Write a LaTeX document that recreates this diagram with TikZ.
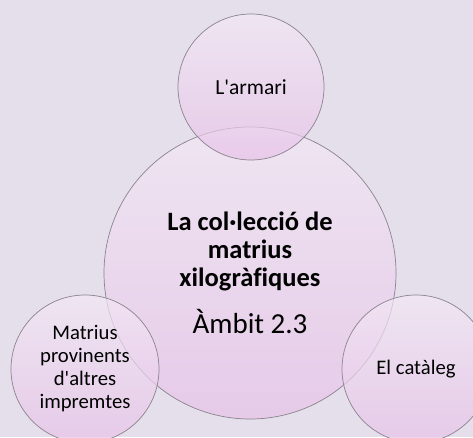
\documentclass[tikz,border=0pt]{standalone}
\usepackage{fontspec}
\setmainfont{Carlito}[Ligatures=NoCommon]
\usepackage{tikz}

\definecolor{backlila}{HTML}{E5DFEB}
\definecolor{ringtop}{HTML}{F3E8F5}
\definecolor{ringbottom}{HTML}{E7C2E8}
\definecolor{ringline}{HTML}{8A848E}

\begin{document}
\begin{tikzpicture}
[x=1pt, y=1pt,
 ring/.style={circle, draw=ringline, line width=.7pt, inner sep=0pt,
   top color=ringtop, bottom color=ringbottom, fill opacity=.7,
   text opacity=1, align=center, text=black,
   font=\fontsize{20.7}{23}\selectfont}]
\fill[backlila] (0,0) rectangle (473,437);
\useasboundingbox (0,0) rectangle (473,437);

\node[ring, minimum size=292pt, font=\fontsize{26.5}{28}\selectfont\bfseries] (coleccio) at (250,164)
  {La col·lecció de\\matrius\\xilogràfiques\\[17pt]
   {\mdseries\fontsize{29}{34}\selectfont Àmbit 2.3}};
\node[ring, minimum size=146pt, font=\fontsize{21.5}{23}\selectfont] (armari) at (251,350) {L\textquotesingle armari};
\node[ring, minimum size=148pt] (altres) at (85,68)
  {Matrius\\provinents\\d\textquotesingle altres\\impremtes};
\node[ring, minimum size=148pt] (cataleg) at (416,68) {El catàleg};

\end{tikzpicture}
\end{document}
